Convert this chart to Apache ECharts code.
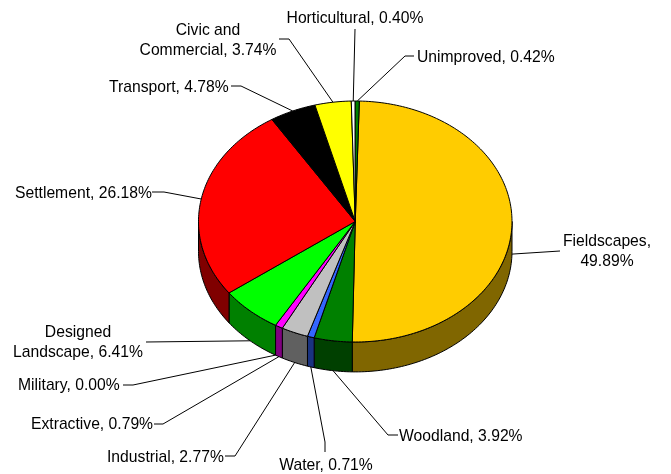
<!DOCTYPE html>
<html><head><meta charset="utf-8">
<style>html,body{margin:0;padding:0;background:#fff}#c{width:671px;height:474px}</style>
<script src="https://cdn.jsdelivr.net/npm/echarts@6/dist/echarts.min.js"></script>
</head><body><div id="c"></div>
<script>
// --- data ---
const categories = ['Fieldscapes','Woodland','Water','Industrial','Extractive','Military','Designed Landscape','Settlement','Transport','Civic and Commercial','Horticultural','Unimproved'];
const values = [49.89,3.92,0.71,2.77,0.79,0.00,6.41,26.18,4.78,3.74,0.40,0.42];
const labelLines = [['Fieldscapes,','49.89%'],['Woodland, 3.92%'],['Water, 0.71%'],['Industrial, 2.77%'],['Extractive, 0.79%'],['Military, 0.00%'],['Designed','Landscape, 6.41%'],['Settlement, 26.18%'],['Transport, 4.78%'],['Civic and','Commercial, 3.74%'],['Horticultural, 0.40%'],['Unimproved, 0.42%']];
// --- style / layout ---
const topColors = ['#FFCC00','#008000','#3366FF','#C0C0C0','#FF00FF','#00FF00','#00FF00','#FF0000','#000000','#FFFF00','#FFFFFF','#008000'];
const sideColors = ['#806600','#004000','#1A3380','#606060','#800080','#008000','#008000','#800000','#000000','#808000','#808080','#004000'];
const labelAnchor = [[607,252,'center'],[399,437,'left'],[326,466,'center'],[107,458,'left'],[31,425,'left'],[18,386,'left'],[78,343,'center'],[15,194,'left'],[109,88,'left'],[208,41,'center'],[355,19,'center'],[417,58,'left']];
const leaderBends = [[[560,251]],[[388,435],[398,435]],[[325,442],[325,452]],[[235,456],[225,456]],[[163,424],[154,424]],[[133,385],[123,385]],[[146,342]],[[164,192],[152,192]],[[241,86],[231,86]],[[289,39],[279,39]],[[355,29]],[[405,56],[414,56]]];
const DEPTH = 0.248; // wall height as a share of the vertical radius
const ROTATION = 1.5 * Math.PI / 180;
const FONT = '15.7px "Liberation Sans", Arial, sans-serif';

// cumulative start
const total = values.reduce((a,b)=>a+b,0);
let run = 0;
const rows = values.map((v,i)=>{const r=[run,v,i]; run+=v; return r;});
const angle = p => ROTATION + p/total*2*Math.PI;           // clockwise from 12 o'clock
const rim = (a,drop=0)=>[Math.sin(a),Math.cos(a)-drop];

function arcPoints(a0,a1,drop,api){
  const n=Math.max(2,Math.ceil((a1-a0)/0.02)),pts=[];
  for(let k=0;k<=n;k++) pts.push(api.coord(rim(a0+(a1-a0)*k/n,drop)));
  return pts;
}
function renderSide(params,api){
  const s=api.value(0),v=api.value(1),i=api.value(2);
  if(v<=0) return {type:'group',children:[]};
  const a0=Math.max(angle(s),Math.PI/2),a1=Math.min(angle(s+v),Math.PI*1.5);
  if(a1<=a0) return {type:'group',children:[]};
  const pts=arcPoints(a0,a1,0,api).concat(arcPoints(a0,a1,DEPTH,api).reverse());
  return {type:'polygon',shape:{points:pts},style:{fill:sideColors[i],stroke:'#000',lineWidth:1,lineJoin:'round'}};
}
function renderTop(params,api){
  const s=api.value(0),v=api.value(1),i=api.value(2);
  if(v<=0) return {type:'group',children:[]};
  const pts=[api.coord([0,0])].concat(arcPoints(angle(s),angle(s+v),0,api));
  return {type:'polygon',shape:{points:pts},style:{fill:topColors[i],stroke:'#000',lineWidth:1,lineJoin:'round'}};
}
function renderLabel(params,api){
  const s=api.value(0),v=api.value(1),i=api.value(2);
  const mid=angle(s+v/2);
  const front=Math.cos(mid)<0.05;
  const start=api.coord(rim(mid,front?DEPTH:0));
  const [x,y,align]=labelAnchor[i];
  return {type:'group',children:[
    {type:'polyline',shape:{points:[start].concat(leaderBends[i])},style:{fill:null,stroke:'#000',lineWidth:1}},
    {type:'text',x:x,y:y,style:{text:labelLines[i].join('\n'),font:FONT,fill:'#000',align:align,verticalAlign:'middle',lineHeight:20}}
  ]};
}
const chart=echarts.init(document.getElementById('c'),null,{renderer:'canvas'});
chart.setOption({
  animation:false,
  backgroundColor:'#fff',
  grid:{left:198.5,top:101,width:313.5,height:241,containLabel:false},
  xAxis:{type:'value',min:-1,max:1,show:false},
  yAxis:{type:'value',min:-1,max:1,show:false},
  series:[
    {type:'custom',name:'labels',coordinateSystem:'cartesian2d',renderItem:renderLabel,data:rows,clip:false,silent:true,z:1},
    {type:'custom',name:'walls',coordinateSystem:'cartesian2d',renderItem:renderSide,data:rows,clip:false,silent:true,z:2},
    {type:'custom',name:'top',coordinateSystem:'cartesian2d',renderItem:renderTop,data:rows,clip:false,silent:true,z:3}
  ]
});
</script></body></html>
